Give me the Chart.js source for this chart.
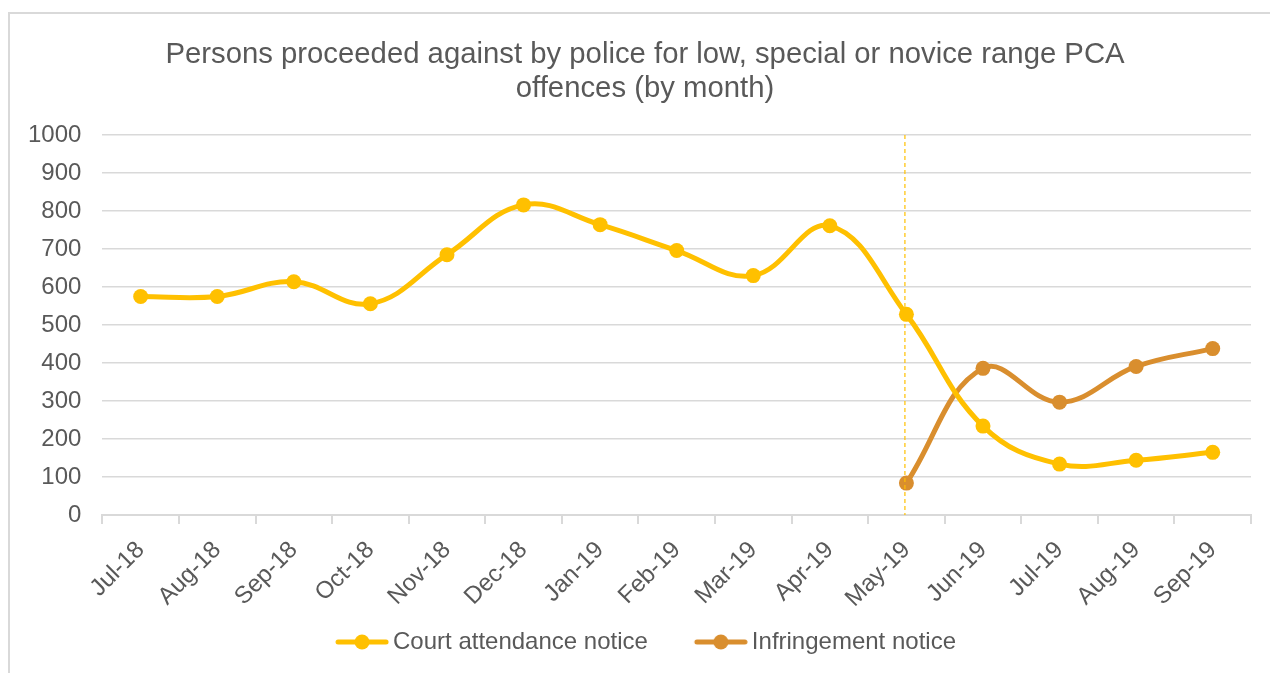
<!DOCTYPE html>
<html>
<head>
<meta charset="utf-8">
<script src="https://cdn.jsdelivr.net/npm/chart.js@4/dist/chart.umd.min.js"></script>
<style>
  body { margin: 0; background: #fff; overflow: hidden; }
  #frame { position: absolute; left: 8px; top: 12px; width: 1270px; height: 670px; border: 2px solid #d9d9d9; background: #fff; }
  #wrap { position: absolute; left: -3px; top: 0; width: 1276px; height: 650px; }
</style>
</head>
<body>
<div id="frame"><div id="wrap"><canvas id="chart"></canvas></div></div>
<script>
var months = ["Jul-18", "Aug-18", "Sep-18", "Oct-18", "Nov-18", "Dec-18", "Jan-19", "Feb-19", "Mar-19", "Apr-19", "May-19", "Jun-19", "Jul-19", "Aug-19", "Sep-19"]
var courtAttendance = [575, 575, 614, 556, 685, 816, 764, 696, 630, 761, 528, 234, 134, 144, 165]
var infringement = [null, null, null, null, null, null, null, null, null, null, 84, 386, 297, 391, 438]
var yTicks = [0, 100, 200, 300, 400, 500, 600, 700, 800, 900, 1000]
var markerMonth = "May-19"

var gold = "#FFC000"
var orange = "#D98E2E"
var textGrey = "#595959"
var gridGrey = "#d9d9d9"
var font = "'Liberation Sans', Arial, sans-serif"

// legend picture: blank lead-in, then a line with a dot (keeps the gap between items)
var iconBox = 87
function legendIcon(color) {
    var c = document.createElement('canvas')
    c.width = iconBox + 16
    c.height = 18
    var g = c.getContext('2d')
    var x0 = c.width - 54
    g.strokeStyle = color
    g.lineWidth = 5
    g.lineCap = 'round'
    g.beginPath()
    g.moveTo(x0 + 3, 9)
    g.lineTo(c.width - 3, 9)
    g.stroke()
    g.fillStyle = color
    g.beginPath()
    g.arc(x0 + 27, 9, 7.5, 0, Math.PI * 2)
    g.fill()
    return c
}

var markerLine = {
    id: 'markerLine',
    afterLayout: function(chart) {
        // undo the visual shift from the blank lead-in of the first legend icon
        chart.legend.left -= 20
        chart.legend.right -= 20
    },
    afterDatasetsDraw: function(chart) {
        var x = chart.scales.x.getPixelForValue(months.indexOf(markerMonth)) - 2
        var area = chart.chartArea
        var ctx = chart.ctx
        ctx.save()
        ctx.strokeStyle = gold
        ctx.lineWidth = 1.2
        ctx.setLineDash([4, 3])
        ctx.beginPath()
        ctx.moveTo(x + 0.5, area.top)
        ctx.lineTo(x + 0.5, area.bottom)
        ctx.stroke()
        ctx.restore()
    }
}

var ctx = document.getElementById('chart').getContext('2d')
new Chart(ctx, {
    type: 'line',
    data: {
        labels: months,
        datasets: [{
            label: "Court attendance notice",
            data: courtAttendance,
            borderColor: gold,
            backgroundColor: gold,
            borderWidth: 5,
            pointRadius: 7.5,
            pointHoverRadius: 7.5,
            pointBorderWidth: 0,
            tension: 0.4,
            icon: legendIcon(gold)
        }, {
            label: "Infringement notice",
            data: infringement,
            borderColor: orange,
            backgroundColor: orange,
            borderWidth: 5,
            pointRadius: 7.5,
            pointHoverRadius: 7.5,
            pointBorderWidth: 0,
            tension: 0.4,
            icon: legendIcon(orange)
        }]
    },
    options: {
        responsive: true,
        maintainAspectRatio: false,
        animation: false,
        layout: { padding: { left: 0, right: 0, top: 18, bottom: 0 } },
        plugins: {
            title: {
                display: true,
                text: ["Persons proceeded against by police for low, special or novice range PCA", "offences (by month)"],
                color: textGrey,
                font: { family: font, size: 29.3, weight: 'normal', lineHeight: 1.16 },
                padding: { top: 6, bottom: 29 }
            },
            legend: {
                position: 'bottom',
                labels: {
                    color: textGrey,
                    font: { family: font, size: 24 },
                    usePointStyle: true,
                    pointStyleWidth: iconBox,
                    padding: 5,
                    generateLabels: function(chart) {
                        var items = Chart.defaults.plugins.legend.labels.generateLabels(chart)
                        items.forEach(function(it) {
                            it.pointStyle = chart.data.datasets[it.datasetIndex].icon
                        })
                        return items
                    }
                }
            },
            tooltip: { enabled: false }
        },
        scales: {
            x: {
                offset: true,
                grid: { offset: true, drawOnChartArea: false, color: gridGrey, lineWidth: 2, tickLength: 9 },
                border: { display: true, color: gridGrey, width: 2 },
                ticks: { color: textGrey, font: { family: font, size: 24 }, maxRotation: 45, minRotation: 45, padding: 12, autoSkip: false },
                // plot stops short of the canvas edge so the title stays centred on the frame
                afterFit: function(scale) { scale.paddingRight = 32 }
            },
            y: {
                min: 0,
                max: 1000,
                afterBuildTicks: function(scale) {
                    scale.ticks = yTicks.map(function(v) { return { value: v } })
                },
                grid: { color: gridGrey, lineWidth: 1.5, drawTicks: false },
                border: { display: false },
                ticks: {
                    color: textGrey,
                    font: { family: font, size: 24 },
                    padding: 21,
                    callback: function(v) { return String(v) }
                }
            }
        }
    },
    plugins: [markerLine]
})
</script>
</body>
</html>
